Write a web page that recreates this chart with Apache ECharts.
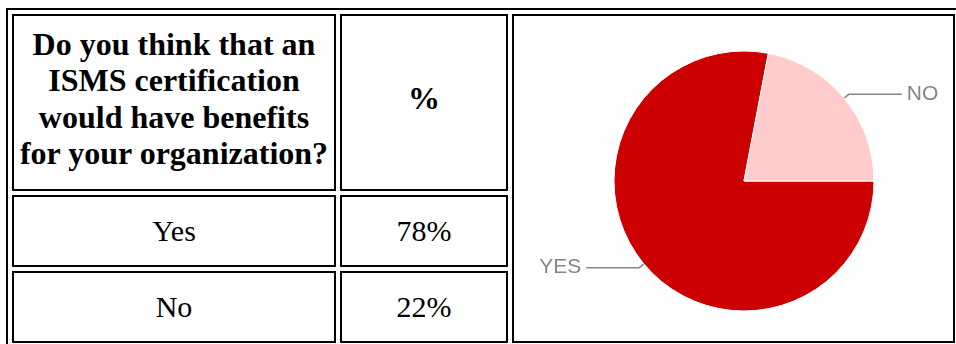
<!DOCTYPE html>
<html>
<head>
<meta charset="utf-8">
<script src="https://cdn.jsdelivr.net/npm/echarts@6/dist/echarts.min.js"></script>
<style>
  html, body { margin: 0; padding: 0; background: #fff; overflow: hidden; }
  body { width: 956px; height: 344px; position: relative; font-family: "Liberation Serif", "Times New Roman", serif; color: #000; }
  .box { position: absolute; box-sizing: border-box; border: 2px solid #000; }
  .cell { display: flex; align-items: center; justify-content: center; text-align: center; }
  .hd { font-weight: bold; font-size: 32px; line-height: 36.5px; padding-bottom: 8px; }
  .td { font-size: 30px; }
  #chart { position: absolute; left: 0; top: 0; width: 956px; height: 344px; }
</style>
</head>
<body>
<div id="table"></div>
<div id="chart"></div>
<script>
// ---- data ----
const questionLines = ['Do you think that an', 'ISMS certification', 'would have benefits', 'for your organization?'];
const percentHeader = '%';
const categories = ['Yes', 'No'];
const percentages = [78, 22];
const pieLabels = ['YES', 'NO'];
const pieColors = ['#cc0000', '#ffcccc'];

// ---- table (HTML) ----
const t = document.getElementById('table');
function box(x, y, w, h, cls, html) {
  const d = document.createElement('div');
  d.className = 'box ' + (cls || '');
  d.style.left = x + 'px'; d.style.top = y + 'px';
  d.style.width = w + 'px'; d.style.height = h + 'px';
  if (html !== undefined) d.innerHTML = html;
  t.appendChild(d);
  return d;
}
box(6, 8, 954, 340, '');
box(12, 14, 324, 177, 'cell hd', '<div>' + questionLines.join('<br>') + '</div>');
box(340, 14, 168, 177, 'cell hd', percentHeader);
const rowTops = [195, 271];
categories.forEach((c, i) => {
  box(12, rowTops[i], 324, 72, 'cell td', c);
  box(340, rowTops[i], 168, 72, 'cell td', percentages[i] + '%');
});
box(512, 14, 443, 329, '');

// ---- pie (ECharts) ----
const chart = echarts.init(document.getElementById('chart'), null, { renderer: 'canvas' });
chart.setOption({
  animation: false,
  backgroundColor: 'transparent',
  series: [{
    type: 'pie',
    center: [744, 181],
    radius: 130,
    startAngle: 0,
    clockwise: true,
    avoidLabelOverlap: false,
    silent: true,
    data: pieLabels.map((n, i) => ({
      name: n,
      value: percentages[i],
      itemStyle: { color: pieColors[i] }
    })),
    itemStyle: { borderColor: '#ffffff', borderWidth: 1 },
    label: {
      show: true,
      formatter: '{b}',
      color: '#858585',
      fontSize: 21,
      fontFamily: '"Liberation Sans", Arial, sans-serif',
      distanceToLabelLine: 5
    },
    labelLine: {
      show: true,
      length: 6,
      length2: 53,
      smooth: false,
      lineStyle: { color: '#858585', width: 1.5 }
    },
    emphasis: { disabled: true }
  }]
});
</script>
</body>
</html>
